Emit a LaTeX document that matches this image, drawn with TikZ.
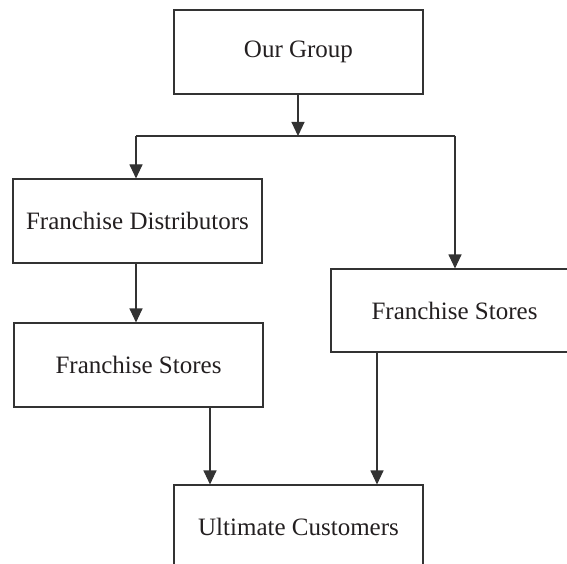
\documentclass[tikz,border=0pt]{standalone}
\usepackage{fontspec}
\setmainfont{Liberation Serif}
\usetikzlibrary{arrows.meta}
\definecolor{linec}{HTML}{333333}
\definecolor{textc}{HTML}{231F20}
\begin{document}
\begin{tikzpicture}[x=1pt,y=-1pt,
  box/.style={draw=linec, line width=1.1pt, minimum width=249pt, minimum height=84pt,
    inner sep=0pt, text=textc, font=\fontsize{25}{30}\selectfont},
  conn/.style={draw=linec, line width=1.1pt},
  arr/.style={conn, -{Triangle[length=14pt,width=13pt]}}]
\useasboundingbox (0,0) rectangle (567,564);
\clip (0,0) rectangle (567,564);
\node[box] (og) at (298.5,52) {Our Group};
\node[box] (fd) at (137.5,221) {Franchise Distributors};
\node[box] (fsl) at (138.5,365) {Franchise Stores};
\node[box, minimum width=247pt, minimum height=83pt] (fsr) at (454.5,310.5) {Franchise Stores};
\node[box] (uc) at (298.5,527) {Ultimate Customers};
\coordinate (j) at (298,136);
\coordinate (jl) at (136,136);
\coordinate (jr) at (455,136);
\coordinate (xa) at (210,0);
\coordinate (xb) at (377,0);
\draw[arr] (og.south -| j) -- (j);
\draw[conn] (jl) -- (jr);
\draw[arr] (jl) -- (fd.north -| jl);
\draw[arr] (jr) -- (fsr.north -| jr);
\draw[arr] (fd.south -| jl) -- (fsl.north -| jl);
\draw[arr] (fsl.south -| xa) -- (uc.north -| xa);
\draw[arr] (fsr.south -| xb) -- (uc.north -| xb);
\end{tikzpicture}
\end{document}
